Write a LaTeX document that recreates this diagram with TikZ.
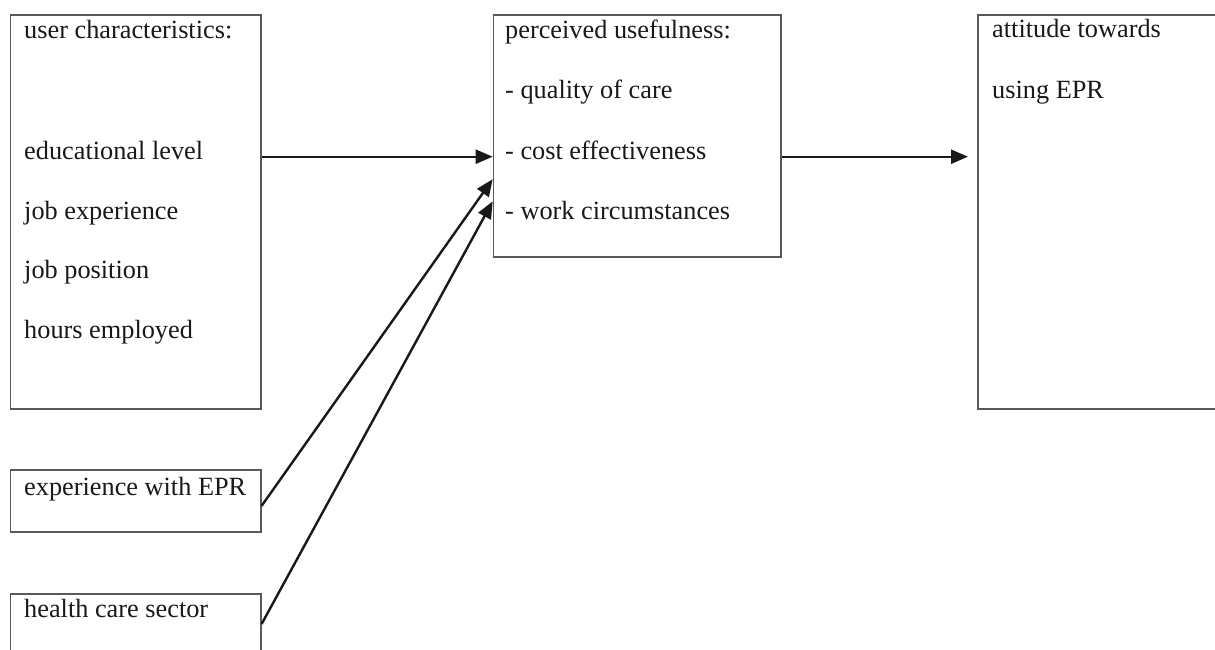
\documentclass[tikz,border=0pt]{standalone}
\usepackage{fontspec}
\setmainfont{Liberation Serif}
\usetikzlibrary{arrows.meta,calc}
\begin{document}
\begin{tikzpicture}[x=1pt,y=1pt,
  box/.style={draw=black!65,line width=1.6pt,fill=white,inner sep=0pt,anchor=north west},
  lbl/.style={anchor=base west,inner sep=0pt,text=black!90,font=\fontsize{26.3}{31}\selectfont},
  arr/.style={line width=2.4pt,draw=black!90,-{Triangle[length=17pt,width=14pt]}}]
\useasboundingbox (0,0) rectangle (1215,-650);
% boxes
\node[box,minimum width=250.5pt,minimum height=394pt] (uc) at (9.5,-14) {};
\node[box,minimum width=250.5pt,minimum height=62pt] (ex) at (9.5,-469) {};
\node[box,minimum width=250.5pt,minimum height=110pt] (hc) at (9.5,-593) {};
\node[box,minimum width=287.3pt,minimum height=242pt] (pu) at (492.7,-14) {};
\node[box,minimum width=263pt,minimum height=394pt] (at) at (977,-14) {};
% texts
\node[lbl] (uct) at (24,-39) {user characteristics:};
\node[lbl] (edu) at (24,-159) {educational level};
\node[lbl] (jex) at (24,-219) {job experience};
\node[lbl] (jpo) at (24,-278) {job position};
\node[lbl] (hem) at (24,-338) {hours employed};
\node[lbl] (ext) at (24,-495) {experience with EPR};
\node[lbl] (hct) at (24,-617) {health care sector};
\node[lbl] (put) at (505,-39) {perceived usefulness:};
\node[lbl] (qoc) at (505,-99) {- quality of care};
\node[lbl] (cost) at (505,-160) {- cost effectiveness};
\node[lbl] (work) at (505,-219) {- work circumstances};
\node[lbl] (att) at (992,-38) {attitude towards};
\node[lbl] (usi) at (992,-99) {using EPR};
% connectors
\draw[arr] (uc.east |- edu.mid) -- (pu.west |- edu.mid);
\draw[arr] ($(ex.south east)!0.42!(ex.north east)$) -- ($(pu.south west)!0.322!(pu.north west)$);
\draw[arr] ($(hc.north east)+(0,-31)$) -- ($(pu.south west)!0.231!(pu.north west)$);
\draw[arr,shorten >=9pt] (pu.east |- edu.mid) -- (at.west |- edu.mid);
\end{tikzpicture}
\end{document}
